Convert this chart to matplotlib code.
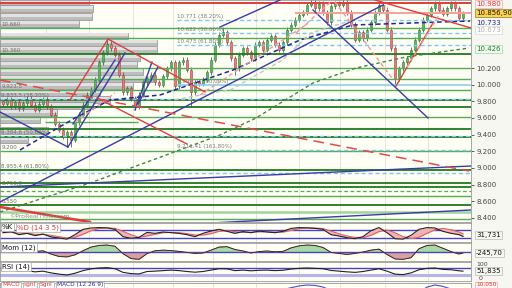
import matplotlib
matplotlib.use('Agg')
import matplotlib.pyplot as plt
from matplotlib.transforms import blended_transform_factory as btf

# ---------------- data ----------------
first_open = 9.80
closes = [9.77, 9.82, 9.74, 9.79, 9.72, 9.78, 9.83, 9.76, 9.70, 9.77,
          9.82, 9.74, 9.64, 9.53, 9.46, 9.38, 9.43, 9.34, 9.55, 9.64,
          9.76, 9.88, 9.94, 10.06, 10.27, 10.39, 10.49, 10.44, 10.36, 10.12,
          9.91, 9.96, 9.84, 9.74, 9.88, 10.03, 10.08, 10.12, 10.03, 10.00,
          10.10, 10.20, 10.27, 9.98, 10.27, 10.30, 10.18, 9.91, 10.03, 10.01,
          10.06, 10.15, 10.30, 10.48, 10.60, 10.63, 10.51, 10.32, 10.20, 10.36,
          10.44, 10.39, 10.32, 10.48, 10.51, 10.42, 10.54, 10.58, 10.48, 10.42,
          10.51, 10.66, 10.72, 10.78, 10.84, 10.87, 10.96, 10.99, 10.92, 10.97,
          10.87, 10.75, 10.94, 10.98, 10.96, 10.99, 10.87, 10.72, 10.54, 10.63,
          10.56, 10.66, 10.75, 10.87, 10.96, 10.90, 10.66, 10.44, 10.08, 10.20,
          10.27, 10.32, 10.42, 10.54, 10.66, 10.78, 10.84, 10.92, 10.97, 10.90,
          10.85, 10.92, 10.98, 10.92, 10.80, 10.86]
highs = [9.83, 9.85, 9.85, 9.82, 9.82, 9.81, 9.86, 9.86, 9.79, 9.80,
         9.85, 9.85, 9.77, 9.67, 9.56, 9.49, 9.46, 9.46, 9.58, 9.67,
         9.79, 9.91, 9.97, 10.09, 10.30, 10.42, 10.55, 10.52, 10.47, 10.39,
         10.15, 9.99, 9.99, 9.87, 9.91, 10.06, 10.11, 10.15, 10.15, 10.06,
         10.13, 10.23, 10.30, 10.30, 10.30, 10.33, 10.33, 10.21, 10.06, 10.06,
         10.09, 10.18, 10.33, 10.51, 10.63, 10.69, 10.66, 10.54, 10.35, 10.39,
         10.47, 10.47, 10.42, 10.51, 10.54, 10.54, 10.57, 10.61, 10.61, 10.51,
         10.54, 10.69, 10.75, 10.81, 10.87, 10.90, 10.99, 11.02, 11.02, 11.00,
         11.00, 10.90, 10.97, 11.01, 11.01, 11.02, 11.02, 10.90, 10.75, 10.66,
         10.66, 10.69, 10.78, 10.90, 10.99, 10.99, 10.93, 10.69, 10.47, 10.23,
         10.30, 10.35, 10.45, 10.57, 10.69, 10.81, 10.87, 10.95, 11.00, 11.00,
         10.93, 10.95, 11.01, 11.01, 10.95, 10.89]
lows = [9.74, 9.74, 9.71, 9.71, 9.69, 9.69, 9.75, 9.73, 9.67, 9.67,
        9.74, 9.71, 9.61, 9.50, 9.43, 9.35, 9.25, 9.25, 9.31, 9.52,
        9.61, 9.73, 9.85, 9.91, 10.03, 10.24, 10.36, 10.41, 10.33, 10.09,
        9.88, 9.88, 9.81, 9.70, 9.71, 9.85, 10.00, 10.05, 10.00, 9.97,
        9.97, 10.07, 10.17, 9.95, 9.95, 10.24, 10.15, 9.73, 9.88, 9.98,
        9.98, 10.03, 10.12, 10.27, 10.45, 10.57, 10.48, 10.29, 10.12, 10.17,
        10.33, 10.36, 10.29, 10.29, 10.45, 10.39, 10.39, 10.51, 10.45, 10.39,
        10.39, 10.48, 10.63, 10.69, 10.75, 10.81, 10.84, 10.93, 10.89, 10.89,
        10.84, 10.72, 10.72, 10.91, 10.93, 10.93, 10.84, 10.69, 10.51, 10.51,
        10.53, 10.53, 10.63, 10.72, 10.84, 10.87, 10.63, 10.41, 9.98, 10.05,
        10.17, 10.24, 10.29, 10.39, 10.51, 10.63, 10.75, 10.81, 10.89, 10.87,
        10.82, 10.82, 10.89, 10.89, 10.77, 10.77]
opens = [first_open] + closes[:-1]

# volume profile (price level, relative volume)
vp_prices = [10.992, 10.914, 10.818, 10.728, 10.584, 10.50, 10.416, 10.32, 10.236,
             10.152, 10.068, 9.984, 9.90, 9.822, 9.75, 9.666, 9.582, 9.45, 9.342]
vp_volume = [89, 93, 92, 79, 128, 157, 157, 140, 137, 143, 153, 133, 100, 110,
             93, 57, 40, 48, 28]

month_starts = [10.75, 21.5, 32.5, 42.5, 52.5, 63.25, 74, 84.25, 95.5, 106.25]

# horizontal levels
lv_dark = [10.37, 9.816, 9.73, 9.468, 9.372, 8.976, 8.82, 8.772, 8.556]
lv_green = [10.68, 10.56, 10.2, 10.07, 9.936, 9.61, 9.204, 8.664, 8.388]
lv_lightgreen = [8.47]
lv_green_dashed = [8.724]
lv_blue_dashed = [9.83, 9.384, 8.94]
fib_levels = [10.771, 10.622, 10.473, 9.216]
fib_texts = ["10.771 (38.20%)", "10.622 (50.00%)", "10.473 (61.80%)", "9.211,41 (161,80%)"]
fib_start = 43.5
level_100 = 10.0
red_top = 10.98
last_price = 10.857

left_labels = ["10.660", "10.360", "9.923,5", "9.833,5 (38.20%)", "9.384,6 (50.00%)",
               "9.200", "8.955,4 (61,80%)", "8.750,0", "8.550"]
left_label_levels = [10.68, 10.37, 9.936, 9.83, 9.384, 9.204, 8.976, 8.772, 8.556]

# trend lines (candle index, price)
blue_lines = [((-0.75, 9.672), (16.25, 9.252)),
              ((16.25, 9.252), (30.5, 10.38)),
              ((17.5, 9.528), (28.0, 10.296)),
              ((33.0, 9.696), (37.25, 10.272)),
              ((33.75, 9.768), (38.75, 10.212)),
              ((-0.75, 8.592), (95.0, 10.956)),
              ((54.25, 10.692), (69.25, 11.016)),
              ((77.5, 10.896), (106.25, 9.60)),
              ((-0.75, 8.772), (117.0, 9.024)),
              ((36.75, 8.304), (117.0, 8.496))]
red_lines = [((16.75, 9.816), (26.25, 10.548)),
             ((26.25, 10.548), (50.5, 9.912)),
             ((23.5, 9.84), (46.0, 9.288)),
             ((93.0, 11.016), (117.0, 10.68)),
             ((98.25, 9.984), (107.5, 10.74))]
red_thick = ((-0.75, 8.532), (21.75, 8.352))
red_dashed = ((-0.75, 10.056), (116.5, 8.964))
pink_dashed = [((49.25, 9.876), (76.75, 10.752)),
               ((73.25, 10.62), (82.5, 11.016)),
               ((83.0, 10.992), (97.25, 10.08)),
               ((101.0, 10.212), (109.75, 10.896)),
               ((18.0, 9.55), (28.0, 9.90))]
gray_dashed_x = [43.0, 57.0, 70.0, 77.0, 87.0]
gray_dashed_y = [9.82, 9.94, 10.30, 10.62, 10.77]
ma_green_x = [-0.75, 21.75, 43.5, 54.25, 63.25, 77.5, 88.25, 100.75, 116.5]
ma_green_y = [8.472, 8.82, 9.204, 9.396, 9.60, 10.02, 10.20, 10.332, 10.44]
ma_blue_x = [4.25, 18.0, 26.75, 39.25, 57.5, 74.25, 87.5, 116.75]
ma_blue_y = [9.216, 9.60, 9.816, 9.876, 10.176, 10.536, 10.716, 10.764]

price_ticks = [8.4, 8.6, 8.8, 9.0, 9.2, 9.4, 9.6, 9.8, 10.0, 10.2]

# indicators (every 2nd candle + last)
ind_idx = list(range(0, 116, 2)) + [115]
stoch_k = [60, 68, 45, 55, 38, 50, 28, 20, 12, 45,
           85, 95, 98, 96, 85, 30, 18, 25, 62, 55,
           65, 60, 55, 45, 30, 55, 72, 85, 70, 55,
           68, 60, 72, 65, 60, 70, 92, 98, 96, 92,
           85, 45, 35, 22, 15, 30, 75, 98, 60, 15,
           12, 40, 85, 98, 95, 70, 55, 45, 32]
stoch_d = [60, 62, 58, 55, 48, 47, 40, 30, 20, 25,
           48, 75, 92, 96, 92, 70, 45, 24, 35, 48,
           60, 62, 60, 53, 43, 42, 52, 70, 76, 68,
           62, 63, 66, 67, 65, 64, 78, 90, 96, 95,
           90, 72, 52, 35, 25, 22, 40, 68, 80, 60,
           30, 18, 25, 55, 82, 92, 82, 65, 52]
momentum = [500, 600, 300, 400, 100, 300, -500, -1100, -1200, -700,
            300, 1200, 1600, 1700, 1400, -400, -1600, -1800, -400, 300,
            450, 350, 150, -100, -350, -250, 450, 1200, 1300, 600,
            250, -250, 100, 250, 50, 150, 1000, 1500, 1700, 1600,
            1100, -100, -350, -600, -350, 0, 450, 700, -600, -1700,
            -1800, -1400, 800, 1600, 1700, 900, 100, -500, -246]
rsi = [55, 58, 52, 55, 48, 52, 42, 35, 30, 40,
       55, 65, 70, 72, 66, 45, 38, 36, 50, 52,
       55, 58, 55, 50, 46, 50, 58, 66, 65, 55,
       58, 54, 57, 58, 55, 57, 64, 68, 70, 68,
       66, 56, 52, 48, 45, 50, 58, 66, 52, 35,
       32, 42, 60, 68, 70, 62, 60, 54, 52]
macd = [10, 15, 10, 8, 0, -5, -20, -40, -55, -40,
        0, 30, 50, 60, 55, 30, 0, -20, -15, 0,
        10, 15, 15, 10, 5, 8, 20, 40, 50, 45,
        40, 42, 45, 48, 50, 52, 65, 78, 85, 82,
        70, 45, 20, 0, -15, -20, -5, 25, 35, 0,
        -40, -50, 30, 70, 85, 75, 55, 40, 40]

# ---------------- figure ----------------
W, H = 512, 288
fig = plt.figure(figsize=(5.12, 2.88), dpi=100)
fig.patch.set_facecolor('#f7f7f2')
BG = '#fffff6'
XL = (-0.75, 117.0)
DARKG, GREEN, LGREEN = '#1f7a1f', '#55aa55', '#9fd49f'
LBLUE = '#7cc6ef'
BLUE = '#3a3aa8'
RED = '#e03c3c'


def px_axes(x0, y0, x1, y1):
    a = fig.add_axes([x0 / W, 1 - y1 / H, (x1 - x0) / W, (y1 - y0) / H])
    a.set_facecolor(BG)
    for s in a.spines.values():
        s.set_color('#9a9a9a')
        s.set_linewidth(0.6)
    a.set_xlim(*XL)
    a.set_xticks([])
    for m in month_starts:
        a.axvline(m, color='#e0e0d6', lw=0.6, zorder=0.5)
    return a


ax = px_axes(0, 0, 471, 222)
ax.set_ylim(8.352, 11.016)

# volume profile
vp_w = [v / 4.0 for v in vp_volume]
ax.barh(vp_prices, vp_w, height=0.078, left=XL[0], color='#bdbdbd',
        edgecolor='#8e8e8e', linewidth=0.5, zorder=1)
ax.barh([p + 0.016 for p in vp_prices], vp_w, height=0.034, left=XL[0],
        color='#e2e2e2', linewidth=0, zorder=1.1)

# horizontal levels
ax.hlines(lv_green, XL[0], XL[1], color=GREEN, lw=1.0, zorder=4)
ax.hlines(lv_dark, XL[0], XL[1], color=DARKG, lw=1.3, zorder=4)
ax.hlines(lv_lightgreen, XL[0], XL[1], color=LGREEN, lw=1.8, zorder=4)
ax.hlines(lv_green_dashed, XL[0], XL[1], color=GREEN, lw=0.9, linestyles=(0, (3, 2)), zorder=4)
ax.hlines(lv_blue_dashed, XL[0], XL[1], color=LBLUE, lw=1.0, linestyles=(0, (3, 2)), zorder=4)
ax.hlines(fib_levels, fib_start, XL[1], color=LBLUE, lw=1.0, linestyles=(0, (3, 2)), zorder=4)
ax.hlines([9.552], 10.5, 33.75, color=GREEN, lw=1.0, zorder=4)
ax.hlines([level_100], fib_start, XL[1], color='#8fcff2', lw=1.2, zorder=4)
ax.hlines([red_top], XL[0], XL[1], color=RED, lw=1.4, zorder=4)
ax.hlines([last_price], 73, XL[1], color='#f2a0a0', lw=1.4, zorder=4)

# candles
idx = list(range(len(closes)))
ups = [c >= o for o, c in zip(opens, closes)]
ax.vlines(idx, lows, highs, color='#5a5a5a', lw=0.6, zorder=3)
ax.bar(idx, [c - o for o, c in zip(opens, closes)], bottom=opens, width=0.7,
       color=['#5cb85c' if u else '#e77c7c' for u in ups],
       edgecolor=['#2f7d2f' if u else '#b03a3a' for u in ups], linewidth=0.4, zorder=3.2)

# moving averages / trend lines
ax.plot(ma_green_x, ma_green_y, color='#3d8a3d', lw=1.0, ls=(0, (2.5, 2)), zorder=5)
ax.plot(ma_blue_x, ma_blue_y, color='#2424a0', lw=1.1, ls=(0, (3, 2)), zorder=5)
ax.plot(gray_dashed_x, gray_dashed_y, color='#c4c4c4', lw=1.0, ls=(0, (3, 2)), zorder=5)
for (a, b) in blue_lines:
    ax.plot([a[0], b[0]], [a[1], b[1]], color=BLUE, lw=1.0, zorder=5)
for (a, b) in red_lines:
    ax.plot([a[0], b[0]], [a[1], b[1]], color=RED, lw=1.0, zorder=5)
for (a, b) in pink_dashed:
    ax.plot([a[0], b[0]], [a[1], b[1]], color='#f29a9a', lw=1.0, ls=(0, (3, 2)), zorder=5)
ax.plot([red_thick[0][0], red_thick[1][0]], [red_thick[0][1], red_thick[1][1]],
        color=RED, lw=1.8, zorder=5)
ax.plot([red_dashed[0][0], red_dashed[1][0]], [red_dashed[0][1], red_dashed[1][1]],
        color='#e34a4a', lw=1.1, ls=(0, (7, 4)), zorder=5)

# texts in main panel
for t, lv in zip(left_labels, left_label_levels):
    ax.text(-0.4, lv + 0.012, t, fontsize=4, color='#6a6a6a', va='bottom', ha='left', zorder=6)
for t, lv in zip(fib_texts, fib_levels):
    ax.text(fib_start, lv + 0.012, t, fontsize=4, color='#7a7a7a', va='bottom', ha='left', zorder=6)
ax.text(fib_start, level_100 + 0.012, "9.999,0 (100.00%)", fontsize=4, color='#7a7a7a',
        va='bottom', ha='left', zorder=2)
ax.text(0.02, 0.025, "\u00a9ProRealTime.com", transform=ax.transAxes, fontsize=4.5,
        color='#8a8a8a', va='center', ha='left', zorder=6)

# right axis
ax.yaxis.tick_right()
ax.set_yticks(price_ticks)
ax.set_yticklabels([f"{v:.3f}" for v in price_ticks])
ax.tick_params(axis='y', labelsize=5, length=2.5, width=0.6, colors='#444444', pad=1.5)

tr = btf(ax.transAxes, ax.transData)
XLAB = 1.0 + 5 / 471


def rlabel(a, trans, y, s, tc, fc='#ffffff', ec='#b8b8b8', weight='normal', va='center'):
    a.text(XLAB, y, s, transform=trans, fontsize=5, color=tc, va=va, ha='left',
           fontweight=weight, clip_on=False, zorder=10,
           bbox=dict(boxstyle='square,pad=0.15', fc=fc, ec=ec, lw=0.5))


rlabel(ax, tr, red_top - 0.01, "10.980", RED, fc='#fdf1f1', ec='#e8b0b0')
rlabel(ax, tr, last_price, "10.856,90", '#111111', fc='#ffd34a', ec='#8a7a30')
rlabel(ax, tr, 10.745, "10.733", '#2424a0', fc='#f7f7f2', ec='#f7f7f2')
rlabel(ax, tr, 10.655, "10.673", '#b0b0b0', fc='#ffffff', ec='#d8d8d8')
rlabel(ax, tr, 10.426, "10.426", DARKG, fc='#f4fbf4', ec='#9fd49f')

# ---------------- sub panels ----------------
def panel_label(a, parts, x0, y=0.93, va='top', fs=5):
    x = x0
    for txt, col, wpx in parts:
        a.text(x / 471, y, txt, transform=a.transAxes, fontsize=fs, color=col,
               va=va, ha='left', zorder=10, clip_on=False,
               bbox=dict(boxstyle='square,pad=0.15', fc='white', ec='#a8a8a8', lw=0.5))
        x += wpx


# stochastic
s_ax = px_axes(0, 223, 471, 242)
s_ax.set_ylim(-10, 132.5)
s_ax.set_yticks([])
s_ax.axhline(80, color='#4444c4', lw=1.0, zorder=2)
s_ax.axhline(20, color='#4444c4', lw=1.0, zorder=2)
s_ax.fill_between(ind_idx, stoch_k, stoch_d, color='#f3b3b3', lw=0, zorder=2.5)
s_ax.plot(ind_idx, stoch_d, color='#e06060', lw=0.8, zorder=3)
s_ax.plot(ind_idx, stoch_k, color='#222222', lw=0.8, zorder=3.2)
panel_label(s_ax, [("%K", '#111111', 15), ("%D (14 3 5)", RED, 45)], 2)
trs = btf(s_ax.transAxes, s_ax.transData)
rlabel(s_ax, trs, stoch_k[-1] + 12, "31,731", '#111111', fc='#f7f7f2', ec='#b8b8b8')

# momentum
m_ax = px_axes(0, 243, 471, 261)
m_ax.set_ylim(-2200, 2200)
m_ax.set_yticks([])
m_ax.fill_between(ind_idx, momentum, 0, where=[v >= 0 for v in momentum],
                  interpolate=True, color='#a6dba6', lw=0, zorder=2)
m_ax.fill_between(ind_idx, momentum, 0, where=[v < 0 for v in momentum],
                  interpolate=True, color='#d9a0a0', lw=0, zorder=2)
m_ax.axhline(0, color='#4444c4', lw=1.0, zorder=2.5)
m_ax.plot(ind_idx, momentum, color='#e07070', lw=0.7, zorder=3)
m_ax.plot(ind_idx, momentum, color='#222222', lw=0.6, zorder=3.2)
panel_label(m_ax, [("Mom (12)", '#111111', 40)], 2)
trm = btf(m_ax.transAxes, m_ax.transData)
rlabel(m_ax, trm, momentum[-1], "-245,70", '#111111', fc='#f7f7f2', ec='#b8b8b8')

# RSI
r_ax = px_axes(0, 262, 471, 281)
r_ax.set_ylim(-4.3, 104.3)
r_ax.set_yticks([])
r_ax.axhline(30, color='#b4b4ec', lw=2.2, zorder=2)
r_ax.axhline(70, color='#4444c4', lw=1.0, zorder=2)
r_ax.plot(ind_idx, rsi, color='#222222', lw=0.8, zorder=3)
panel_label(r_ax, [("RSI (14)", '#111111', 40)], 2)
trr = btf(r_ax.transAxes, r_ax.transData)
rlabel(r_ax, trr, rsi[-1], "51,835", '#111111', fc='#f7f7f2', ec='#b8b8b8')
r_ax.text(XLAB, 88, "100", transform=trr, fontsize=4.5, color='#444444', va='center',
          ha='left', clip_on=False)
r_ax.text(XLAB + 0.005, 8, "0", transform=trr, fontsize=4.5, color='#444444', va='center',
          ha='left', clip_on=False)

# MACD (mostly cut off by the figure bottom)
c_ax = px_axes(0, 283, 471, 310)
c_ax.set_ylim(-100, 100)
c_ax.set_yticks([])
c_ax.plot(ind_idx, macd, color='#4a4ad0', lw=0.8, zorder=3)
c_top = (310 - 287.4) / 27.0
panel_label(c_ax, [("MACD", RED, 22), ("sgnl", RED, 16), ("Sgnl", RED, 17),
                   ("MACD (12 26 9)", '#2424a0', 60)], 2, y=c_top, va='bottom', fs=4.2)
c_ax.text(XLAB, c_top, "10.050", transform=c_ax.transAxes, fontsize=4.2, color=RED,
          va='bottom', ha='left', clip_on=False, zorder=10,
          bbox=dict(boxstyle='square,pad=0.15', fc='#fdf1f1', ec='#e8b0b0', lw=0.5))

fig.savefig('out.png', dpi=100, facecolor=fig.get_facecolor())
